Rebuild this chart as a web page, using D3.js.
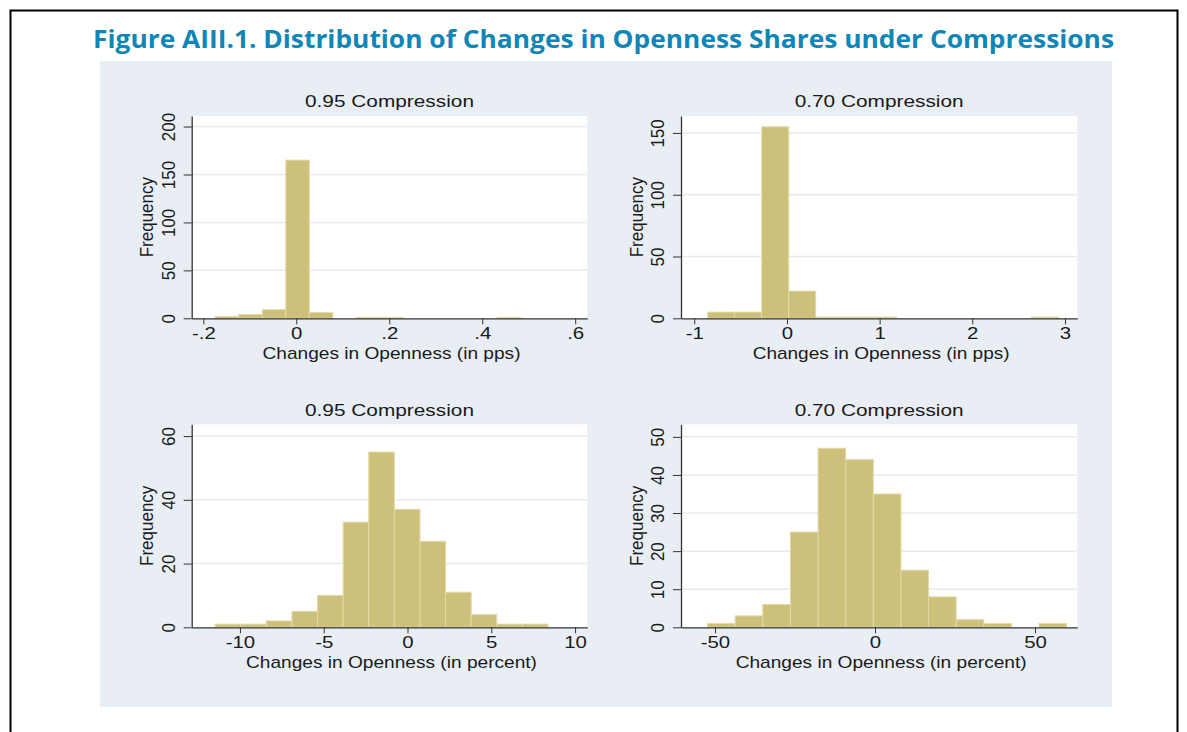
<!DOCTYPE html>
<html>
<head>
<meta charset="utf-8">
<script src="https://cdn.jsdelivr.net/npm/d3@7"></script>
<style>
  html, body { margin: 0; padding: 0; background: #fff; }
  svg { display: block; }
</style>
</head>
<body>
<div id="chart"></div>
<script>
// histogram bins: 13 bins each, edges = lower edges + last upper edge

// 0.95 compression, changes in pps
const ppsEdges95 = [-0.174, -0.1235, -0.073, -0.0225, 0.028, 0.0785, 0.129, 0.1795, 0.230, 0.2805, 0.331, 0.3815, 0.432, 0.4825];
const ppsCounts95 = [2, 4, 9, 165, 6, 0, 1, 1, 0, 0, 0, 0, 1];

// 0.70 compression, changes in pps
const ppsEdges70 = [-0.855, -0.564, -0.272, 0.019, 0.310, 0.601, 0.892, 1.183, 1.475, 1.766, 2.057, 2.348, 2.639, 2.931];
const ppsCounts70 = [5, 5, 155, 22, 1, 1, 1, 0, 0, 0, 0, 0, 1];

// 0.95 compression, changes in percent
const pctEdges95 = [-11.48, -9.952, -8.424, -6.896, -5.368, -3.84, -2.312, -0.784, 0.744, 2.272, 3.80, 5.328, 6.856, 8.384];
const pctCounts95 = [1, 1, 2, 5, 10, 33, 55, 37, 27, 11, 4, 1, 1];

// 0.70 compression, changes in percent
const pctEdges70 = [-52.3, -43.67, -35.04, -26.41, -17.78, -9.15, -0.52, 8.11, 16.74, 25.37, 34.0, 42.63, 51.26, 59.89];
const pctCounts70 = [1, 3, 6, 25, 47, 44, 35, 15, 8, 2, 1, 0, 1];

// axis ticks
const ppsXTicks95 = [-0.2, 0, 0.2, 0.4, 0.6];
const ppsXLabels95 = ["-.2", "0", ".2", ".4", ".6"];
const ppsXTicks70 = [-1, 0, 1, 2, 3];
const pctXTicks95 = [-10, -5, 0, 5, 10];
const pctXTicks70 = [-50, 0, 50];

const ppsYTicks95 = [0, 50, 100, 150, 200];
const ppsYTicks70 = [0, 50, 100, 150];
const pctYTicks95 = [0, 20, 40, 60];
const pctYTicks70 = [0, 10, 20, 30, 40, 50];

const figTitle = "Figure AIII.1. Distribution of Changes in Openness Shares under Compressions";
const panelTitles = ["0.95 Compression", "0.70 Compression", "0.95 Compression", "0.70 Compression"];
const xTitles = ["Changes in Openness (in pps)", "Changes in Openness (in pps)",
                 "Changes in Openness (in percent)", "Changes in Openness (in percent)"];
const yTitle = "Frequency";

// panel layout (plot region in page pixels) + scale extents
const panels = [
    { left: 191.7, top: 116,   w: 395.6, h: 202.3, xDomain: [-0.225, 0.626], yMax: 211,
      edges: ppsEdges95, counts: ppsCounts95, xTicks: ppsXTicks95, xLabels: ppsXLabels95, yTicks: ppsYTicks95,
      title: panelTitles[0], xTitle: xTitles[0], xTitleLen: 258 },
    { left: 681,   top: 116,   w: 396.3, h: 202.3, xDomain: [-1.143, 3.133], yMax: 163.7,
      edges: ppsEdges70, counts: ppsCounts70, xTicks: ppsXTicks70, xLabels: ppsXTicks70.map(String), yTicks: ppsYTicks70,
      title: panelTitles[1], xTitle: xTitles[1], xTitleLen: 257 },
    { left: 191.7, top: 424.3, w: 395.6, h: 203,   xDomain: [-12.88, 10.73], yMax: 63.7,
      edges: pctEdges95, counts: pctCounts95, xTicks: pctXTicks95, xLabels: pctXTicks95.map(String), yTicks: pctYTicks95,
      title: panelTitles[2], xTitle: xTitles[2], xTitleLen: 291 },
    { left: 681,   top: 424.3, w: 396.3, h: 203,   xDomain: [-60.6, 63.2], yMax: 53.3,
      edges: pctEdges70, counts: pctCounts70, xTicks: pctXTicks70, xLabels: pctXTicks70.map(String), yTicks: pctYTicks70,
      title: panelTitles[3], xTitle: xTitles[3], xTitleLen: 291 }
];

const W = 1187, H = 732;
const textColor = "#1a1a1a";
const font = "'Liberation Sans', Arial, sans-serif";

const svg = d3.select("#chart").append("svg")
    .attr("width", W)
    .attr("height", H);

svg.append("rect").attr("width", W).attr("height", H).attr("fill", "#fff");

// outer box (top, left, right edges only)
svg.append("path")
    .attr("d", `M10.5,${H}V10.5H1177.5V${H}`)
    .attr("fill", "none")
    .attr("stroke", "#000")
    .attr("stroke-width", 2);

// figure title
svg.append("text")
    .attr("x", 603.5)
    .attr("y", 48)
    .attr("text-anchor", "middle")
    .attr("textLength", 1021)
    .attr("lengthAdjust", "spacingAndGlyphs")
    .style("font-family", "'Open Sans', 'Noto Sans', sans-serif")
    .style("font-weight", "700")
    .style("font-size", "25px")
    .style("fill", "#0f86b5")
    .text(figTitle);

// graph region
svg.append("rect")
    .attr("x", 100).attr("y", 61)
    .attr("width", 1012).attr("height", 646)
    .attr("fill", "#e8eef4");

function drawPanel(p) {
    const g = svg.append("g").attr("transform", `translate(${p.left},${p.top})`);

    const x = d3.scaleLinear().domain(p.xDomain).range([0, p.w]);
    const y = d3.scaleLinear().domain([0, p.yMax]).range([p.h, 0]);

    // plot region
    g.append("rect").attr("width", p.w).attr("height", p.h).attr("fill", "#fff");

    // gridlines
    g.selectAll(".grid")
        .data(p.yTicks.filter(d => d > 0))
        .enter().append("line")
        .attr("class", "grid")
        .attr("x1", 0).attr("x2", p.w)
        .attr("y1", d => y(d)).attr("y2", d => y(d))
        .attr("stroke", "#e7eaed")
        .attr("stroke-width", 1.5);

    // bars
    const bins = p.counts
        .map((c, i) => ({ x0: p.edges[i], x1: p.edges[i + 1], n: c }))
        .filter(b => b.n > 0);

    g.selectAll(".bar")
        .data(bins)
        .enter().append("rect")
        .attr("class", "bar")
        .attr("x", d => x(d.x0))
        .attr("width", d => x(d.x1) - x(d.x0))
        .attr("y", d => y(d.n))
        .attr("height", d => y(0) - y(d.n))
        .attr("fill", "#ccc07a")
        .attr("stroke", "#e3daa8")
        .attr("stroke-width", 1);

    // x axis
    const xAxis = g.append("g")
        .attr("transform", `translate(0,${p.h})`)
        .call(d3.axisBottom(x)
            .tickValues(p.xTicks)
            .tickFormat((d, i) => p.xLabels[i])
            .tickSize(6)
            .tickSizeOuter(0));
    xAxis.select(".domain").attr("stroke", "#333").attr("stroke-width", 1.3);
    xAxis.selectAll(".tick line").attr("stroke", "#333");
    xAxis.selectAll("text")
        .attr("y", null).attr("dy", null)
        .attr("fill", textColor)
        .attr("transform", "translate(0,21) scale(1.2,1)")
        .style("font-family", font)
        .style("font-size", "17px");

    // y axis
    const yAxis = g.append("g")
        .call(d3.axisLeft(y)
            .tickValues(p.yTicks)
            .tickSize(8)
            .tickSizeOuter(0));
    yAxis.select(".domain").attr("stroke", "#333").attr("stroke-width", 1.3);
    yAxis.selectAll(".tick line").attr("stroke", "#333");
    yAxis.selectAll("text")
        .attr("x", 0).attr("dy", null)
        .attr("text-anchor", "middle")
        .attr("fill", textColor)
        .attr("transform", "translate(-17,0) scale(1.1,1) rotate(-90)")
        .style("font-family", font)
        .style("font-size", "17px");

    // panel title
    g.append("text")
        .attr("x", p.w / 2)
        .attr("y", -8.7)
        .attr("text-anchor", "middle")
        .attr("textLength", 169)
        .attr("lengthAdjust", "spacingAndGlyphs")
        .attr("fill", textColor)
        .style("font-family", font)
        .style("font-size", "17px")
        .text(p.title);

    // x title
    g.append("text")
        .attr("x", p.w / 2 + 2)
        .attr("y", p.h + 40.5)
        .attr("text-anchor", "middle")
        .attr("textLength", p.xTitleLen)
        .attr("lengthAdjust", "spacingAndGlyphs")
        .attr("fill", textColor)
        .style("font-family", font)
        .style("font-size", "17px")
        .text(p.xTitle);

    // y title
    g.append("text")
        .attr("transform", `translate(-38.5,${p.h / 2}) scale(1.1,1) rotate(-90)`)
        .attr("text-anchor", "middle")
        .attr("fill", textColor)
        .style("font-family", font)
        .style("font-size", "17px")
        .text(yTitle);
}

panels.forEach(drawPanel);
</script>
</body>
</html>
